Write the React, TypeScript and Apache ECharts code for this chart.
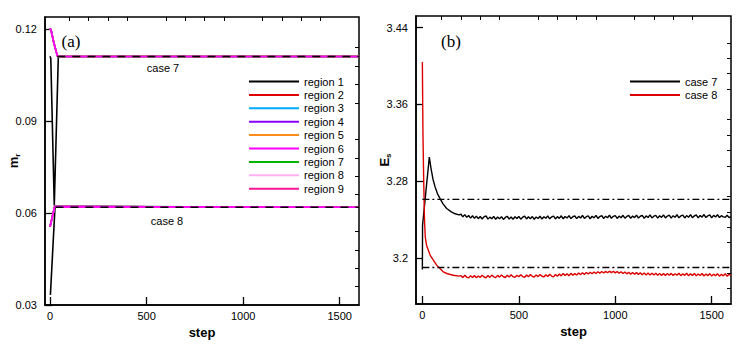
import React, { useEffect, useRef } from "react";
import * as echarts from "echarts";

const FONT = "Liberation Sans, Arial, Helvetica, sans-serif";

// ---------- panel (a): m_r ----------
const regionNames = ["region 1", "region 2", "region 3", "region 4", "region 5", "region 6", "region 7", "region 8", "region 9"];
const regionColors = ["#000000", "#e00000", "#00aaff", "#8a00ff", "#ff8c1a", "#ff00ff", "#00b400", "#ffb0f0", "#ff1493"];

const mrCase7Region1Steps = [0, 4, 22, 43, 1600];
const mrCase7Region1 = [0.1112, 0.1105, 0.0625, 0.1111, 0.1111];
const mrCase7OtherSteps = [0, 6, 20, 38, 45, 1600];
const mrCase7Other = [0.1203, 0.1195, 0.1155, 0.1113, 0.1111, 0.1111];
const mrCase8Region1Steps = [2, 26, 1600];
const mrCase8Region1 = [0.0333, 0.0622, 0.0619];
const mrCase8OtherSteps = [0, 24, 1600];
const mrCase8Other = [0.0555, 0.0621, 0.0619];
const mrRef7Steps = [38, 1600];
const mrRef7 = [0.1111, 0.1111];
const mrRef8Steps = [28, 1600];
const mrRef8 = [0.0619, 0.0619];

const mrYTicks = [0.03, 0.06, 0.09, 0.12];
const mrYMinor = [0.036, 0.042, 0.048, 0.054, 0.066, 0.072, 0.078, 0.084, 0.096, 0.102, 0.108, 0.114];
const stepTicks = [0, 500, 1000, 1500];
const stepMinor = [100, 200, 300, 400, 600, 700, 800, 900, 1100, 1200, 1300, 1400];

// ---------- panel (b): E_s ----------
const esYTicks = [3.2, 3.28, 3.36, 3.44];
const esYMinor = [3.168, 3.184, 3.216, 3.232, 3.248, 3.264, 3.296, 3.312, 3.328, 3.344, 3.376, 3.392, 3.408, 3.424];

const es7TransientSteps = [0, 1, 36, 45, 55, 66, 78, 91, 108, 126, 150, 170, 190];
const es7Transient = [3.188, 3.234, 3.305, 3.293, 3.282, 3.274, 3.267, 3.262, 3.256, 3.2515, 3.248, 3.246, 3.2448];
const es8TransientSteps = [0, 3, 7, 11, 15, 22, 40, 74, 108, 130, 160, 190];
const es8Transient = [3.404, 3.33, 3.28, 3.24, 3.222, 3.213, 3.203, 3.1925, 3.1855, 3.1835, 3.182, 3.181];

const steadySteps = Array.from({ length: 141 }, (_, i) => 200 + 10 * i);
const es7Steady = [
  3.2455, 3.2428, 3.2451, 3.2423, 3.2442, 3.2415, 3.2439, 3.2412, 3.2434, 3.2409,
  3.2431, 3.2406, 3.2428, 3.2437, 3.2404, 3.2425, 3.2408, 3.2433, 3.2402, 3.2426,
  3.2407, 3.2430, 3.2401, 3.2422, 3.2434, 3.2405, 3.2427, 3.2403, 3.2429, 3.2410,
  3.2432, 3.2404, 3.2424, 3.2435, 3.2406, 3.2428, 3.2408, 3.2431, 3.2403, 3.2426,
  3.2411, 3.2434, 3.2405, 3.2429, 3.2414, 3.2438, 3.2407, 3.2427, 3.2436, 3.2406,
  3.2430, 3.2412, 3.2439, 3.2408, 3.2432, 3.2415, 3.2441, 3.2410, 3.2429, 3.2437,
  3.2409, 3.2433, 3.2416, 3.2442, 3.2411, 3.2430, 3.2439, 3.2408, 3.2434, 3.2417,
  3.2443, 3.2412, 3.2431, 3.2440, 3.2410, 3.2435, 3.2418, 3.2445, 3.2413, 3.2433,
  3.2441, 3.2411, 3.2436, 3.2419, 3.2444, 3.2414, 3.2432, 3.2442, 3.2412, 3.2437,
  3.2420, 3.2446, 3.2415, 3.2434, 3.2443, 3.2413, 3.2438, 3.2421, 3.2448, 3.2416,
  3.2435, 3.2444, 3.2414, 3.2439, 3.2422, 3.2449, 3.2417, 3.2436, 3.2445, 3.2415,
  3.2440, 3.2423, 3.2450, 3.2418, 3.2437, 3.2446, 3.2416, 3.2441, 3.2424, 3.2451,
  3.2419, 3.2438, 3.2447, 3.2417, 3.2442, 3.2425, 3.2452, 3.2420, 3.2439, 3.2448,
  3.2418, 3.2443, 3.2426, 3.2450, 3.2421, 3.2440, 3.2428, 3.2423, 3.2445, 3.2420,
  3.2430,
];
const es8Steady = [
  3.1815, 3.1795, 3.1819, 3.1800, 3.1792, 3.1814, 3.1796, 3.1817, 3.1794, 3.1812,
  3.1798, 3.1820, 3.1801, 3.1793, 3.1816, 3.1797, 3.1821, 3.1803, 3.1795, 3.1818,
  3.1800, 3.1823, 3.1804, 3.1796, 3.1819, 3.1802, 3.1824, 3.1805, 3.1797, 3.1820,
  3.1803, 3.1825, 3.1806, 3.1799, 3.1822, 3.1804, 3.1827, 3.1808, 3.1800, 3.1823,
  3.1805, 3.1828, 3.1809, 3.1802, 3.1825, 3.1807, 3.1830, 3.1811, 3.1803, 3.1827,
  3.1809, 3.1832, 3.1813, 3.1837, 3.1817, 3.1834, 3.1815, 3.1839, 3.1820, 3.1836,
  3.1822, 3.1843, 3.1826, 3.1846, 3.1828, 3.1849, 3.1832, 3.1851, 3.1835, 3.1853,
  3.1838, 3.1856, 3.1841, 3.1859, 3.1843, 3.1860, 3.1845, 3.1862, 3.1847, 3.1861,
  3.1844, 3.1859, 3.1840, 3.1856, 3.1837, 3.1853, 3.1834, 3.1851, 3.1831, 3.1849,
  3.1829, 3.1847, 3.1827, 3.1845, 3.1825, 3.1843, 3.1823, 3.1842, 3.1822, 3.1841,
  3.1821, 3.1840, 3.1819, 3.1839, 3.1818, 3.1838, 3.1817, 3.1837, 3.1820, 3.1839,
  3.1816, 3.1836, 3.1819, 3.1840, 3.1815, 3.1835, 3.1818, 3.1841, 3.1814, 3.1834,
  3.1817, 3.1839, 3.1813, 3.1833, 3.1816, 3.1838, 3.1812, 3.1832, 3.1815, 3.1837,
  3.1811, 3.1831, 3.1814, 3.1836, 3.1810, 3.1830, 3.1813, 3.1835, 3.1809, 3.1829,
  3.1820,
];
const esRefSteps = [0, 1600];
const esRef7 = [3.261, 3.261];
const esRef8 = [3.19, 3.19];

const zip = (xs: number[], ys: number[]) => xs.map((x, i) => [x, ys[i]]);

export default function App() {
  const ref = useRef<HTMLDivElement>(null);
  useEffect(() => {
    if (!ref.current) return;
    const chart = echarts.init(ref.current, undefined, { renderer: "svg" });

    const axisLineStyle = { color: "#000", width: 1.5 };
    const labelStyle = { color: "#000", fontSize: 11, fontFamily: FONT };

    const mainX = (gridIndex: number, min: number) => ({
      type: "value",
      gridIndex,
      min,
      max: 1600,
      axisLine: { show: true, onZero: false, lineStyle: axisLineStyle },
      axisTick: { show: true, inside: true, length: 8, customValues: stepTicks, lineStyle: { color: "#000", width: 1.3 } },
      axisLabel: { show: true, customValues: stepTicks, margin: 5, formatter: (v: number) => String(v), ...labelStyle },
      splitLine: { show: false },
      name: "step",
      nameLocation: "middle",
      nameGap: 21,
      nameTextStyle: { color: "#000", fontSize: 13, fontWeight: "bold", fontFamily: FONT },
    });
    const minorX = (gridIndex: number, min: number) => ({
      type: "value",
      gridIndex,
      min,
      max: 1600,
      axisLine: { show: false, onZero: false },
      axisTick: { show: true, inside: true, length: 4, customValues: stepMinor, lineStyle: { color: "#000", width: 1 } },
      axisLabel: { show: false },
      splitLine: { show: false },
    });
    const mainY = (gridIndex: number, min: number, max: number, ticks: number[], name: string) => ({
      type: "value",
      gridIndex,
      min,
      max,
      axisLine: { show: true, onZero: false, lineStyle: axisLineStyle },
      axisTick: { show: true, inside: true, length: 7, customValues: ticks, lineStyle: { color: "#000", width: 1.3 } },
      axisLabel: { show: true, customValues: ticks, margin: 8, ...labelStyle },
      splitLine: { show: false },
      name,
      nameLocation: "middle",
      nameGap: 24,
      nameMoveOverlap: false,
      nameTextStyle: {
        color: "#000",
        fontFamily: FONT,
        rich: {
          m: { fontSize: 13, fontWeight: "bold", lineHeight: 16, fontFamily: FONT, color: "#000" },
          s: { fontSize: 8, fontWeight: "bold", lineHeight: 8, verticalAlign: "bottom", fontFamily: FONT, color: "#000" },
        },
      },
    });
    const minorY = (gridIndex: number, min: number, max: number, ticks: number[]) => ({
      type: "value",
      gridIndex,
      min,
      max,
      axisLine: { show: false, onZero: false },
      axisTick: { show: true, inside: true, length: 4, customValues: ticks, lineStyle: { color: "#000", width: 1 } },
      axisLabel: { show: false },
      splitLine: { show: false },
    });

    const series: any[] = [];
    const drawOrder = [0, 1, 2, 3, 4, 6, 7, 8, 5];
    for (const i of drawOrder) {
      series.push({
        name: regionNames[i],
        type: "line",
        xAxisIndex: 0,
        yAxisIndex: 0,
        symbol: "none",
        color: regionColors[i],
        lineStyle: { width: 1.6, color: regionColors[i] },
        data: i === 0 ? zip(mrCase7Region1Steps, mrCase7Region1) : zip(mrCase7OtherSteps, mrCase7Other),
      });
      series.push({
        name: regionNames[i],
        type: "line",
        xAxisIndex: 0,
        yAxisIndex: 0,
        symbol: "none",
        color: regionColors[i],
        lineStyle: { width: 1.6, color: regionColors[i] },
        data: i === 0 ? zip(mrCase8Region1Steps, mrCase8Region1) : zip(mrCase8OtherSteps, mrCase8Other),
      });
    }
    series.push(
      {
        name: "case 7 converged",
        type: "line",
        xAxisIndex: 0,
        yAxisIndex: 0,
        symbol: "none",
        z: 5,
        lineStyle: { width: 1.6, color: "#000", type: [8, 7] },
        data: zip(mrRef7Steps, mrRef7),
      },
      {
        name: "case 8 converged",
        type: "line",
        xAxisIndex: 0,
        yAxisIndex: 0,
        symbol: "none",
        z: 5,
        lineStyle: { width: 1.6, color: "#000", type: [8, 7] },
        data: zip(mrRef8Steps, mrRef8),
      },
      {
        name: "case 7",
        type: "line",
        xAxisIndex: 2,
        yAxisIndex: 2,
        symbol: "none",
        color: "#000",
        lineStyle: { width: 1.4, color: "#000" },
        data: [...zip(es7TransientSteps, es7Transient), ...zip(steadySteps, es7Steady)],
      },
      {
        name: "case 8",
        type: "line",
        xAxisIndex: 2,
        yAxisIndex: 2,
        symbol: "none",
        color: "#dd0000",
        lineStyle: { width: 1.4, color: "#dd0000" },
        data: [...zip(es8TransientSteps, es8Transient), ...zip(steadySteps, es8Steady)],
      },
      {
        name: "case 7 reference",
        type: "line",
        xAxisIndex: 2,
        yAxisIndex: 2,
        symbol: "none",
        lineStyle: { width: 1.3, color: "#000", type: [7, 3, 2, 3] },
        data: zip(esRefSteps, esRef7),
      },
      {
        name: "case 8 reference",
        type: "line",
        xAxisIndex: 2,
        yAxisIndex: 2,
        symbol: "none",
        lineStyle: { width: 1.3, color: "#000", type: [7, 3, 2, 3] },
        data: zip(esRefSteps, esRef8),
      }
    );

    const legendCommon = {
      orient: "vertical",
      icon: "rect",
      itemWidth: 50,
      itemHeight: 2,
      itemGap: 2.4,
      textGap: 9,
      textStyle: { color: "#000", fontSize: 11, fontFamily: FONT, lineHeight: 11 },
      padding: 0,
    };

    chart.setOption({
      animation: false,
      backgroundColor: "#fff",
      grid: [
        { left: 45, top: 17, width: 314, height: 288, show: true, borderColor: "#000", borderWidth: 1.5, backgroundColor: "transparent" },
        { left: 416, top: 16, width: 315, height: 288, show: true, borderColor: "#000", borderWidth: 1.5, backgroundColor: "transparent" },
      ],
      xAxis: [mainX(0, -26), minorX(0, -26), mainX(1, -33), minorX(1, -33)],
      yAxis: [
        mainY(0, 0.03, 0.124, mrYTicks, "{m|m}{s|r}"),
        minorY(0, 0.03, 0.124, mrYMinor),
        mainY(1, 3.152, 3.452, esYTicks, "{m|E}{s|s}"),
        minorY(1, 3.152, 3.452, esYMinor),
      ],
      legend: [
        { ...legendCommon, left: 249, top: 76, data: regionNames },
        { ...legendCommon, left: 630, top: 76, data: ["case 7", "case 8"] },
      ],
      graphic: [
        { type: "text", x: 71, y: 41, style: { text: "(a)", font: '17px "Liberation Serif", serif', fill: "#000", textAlign: "center", textVerticalAlign: "middle" } },
        { type: "text", x: 451, y: 41, style: { text: "(b)", font: '17px "Liberation Serif", serif', fill: "#000", textAlign: "center", textVerticalAlign: "middle" } },
        { type: "text", x: 163, y: 68, style: { text: "case 7", font: `11px ${FONT}`, fill: "#000", textAlign: "center", textVerticalAlign: "middle" } },
        { type: "text", x: 167, y: 221, style: { text: "case 8", font: `11px ${FONT}`, fill: "#000", textAlign: "center", textVerticalAlign: "middle" } },
      ],
      series,
    });
    return () => chart.dispose();
  }, []);
  return <div ref={ref} style={{ position: "fixed", left: 0, top: 0, width: 747, height: 347 }} />;
}
